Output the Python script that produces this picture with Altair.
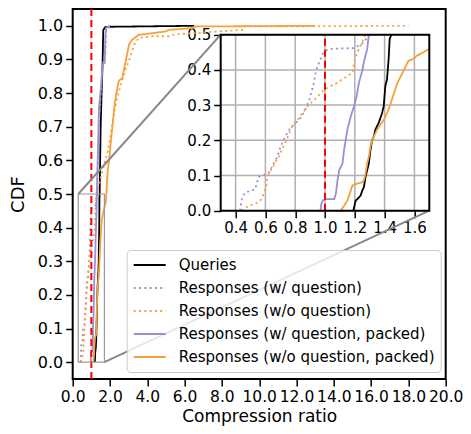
import altair as alt
import pandas as pd

# ---------------- data ----------------
SERIES = [
    "Queries",
    "Responses (w/ question)",
    "Responses (w/o question)",
    "Responses (w/ question, packed)",
    "Responses (w/o question, packed)",
]
COLORS = ["#000000", "#9b8fd3", "#f5a03c", "#9b8fd3", "#f5a03c"]
DASHES = [[1, 0], [2, 3.3], [2, 3.3], [1, 0], [1, 0]]

queries_x = [1.19, 1.206, 1.217, 1.239, 1.25, 1.261, 1.272, 1.283, 1.294, 1.305, 1.316, 1.327,
             1.338, 1.36, 1.383, 1.394, 1.405, 1.416, 1.427, 1.434, 1.445, 1.5, 1.55, 1.6,
             1.64, 1.76, 6.5]
queries_y = [0.0, 0.029, 0.033, 0.043, 0.057, 0.067, 0.096, 0.115, 0.134, 0.172, 0.2, 0.21,
             0.23, 0.249, 0.277, 0.297, 0.354, 0.373, 0.43, 0.488, 0.5, 0.7, 0.8, 0.885,
             0.988, 0.997, 1.0]

wq_x = [0.43, 0.44, 0.46, 0.50, 0.53, 0.555, 0.58, 0.62, 0.645, 0.68, 0.70, 0.725, 0.76,
        0.79, 0.83, 0.86, 0.895, 0.92, 0.94, 0.965, 0.985, 1.0, 1.05, 1.195, 1.25, 1.28,
        1.30, 1.4, 1.6, 1.65, 1.75, 1.8, 2.06]
wq_y = [0.0, 0.03, 0.05, 0.057, 0.06, 0.096, 0.10, 0.105, 0.125, 0.153, 0.18, 0.205, 0.23,
        0.244, 0.26, 0.28, 0.316, 0.354, 0.397, 0.426, 0.445, 0.455, 0.46, 0.462, 0.475, 0.49,
        0.5, 0.7, 0.88, 0.9, 0.91, 0.99, 1.0]

woq_x = [0.441, 0.486, 0.53, 0.566, 0.589, 0.605, 0.61, 0.623, 0.645, 0.668, 0.69, 0.714,
         0.736, 0.76, 0.78, 0.816, 0.85, 0.884, 0.918, 0.952, 0.986, 1.02, 1.084, 1.184,
         1.195, 1.217, 1.25, 1.27, 1.6, 1.9, 2.1, 2.31, 2.6, 2.84, 3.1, 3.3, 3.54, 4.25,
         5.15, 5.5, 6.4, 9.15, 9.2, 18.0]
woq_y = [0.0, 0.014, 0.019, 0.029, 0.048, 0.067, 0.086, 0.105, 0.12, 0.139, 0.153, 0.177,
         0.196, 0.22, 0.24, 0.258, 0.278, 0.297, 0.311, 0.325, 0.34, 0.35, 0.364, 0.392,
         0.421, 0.45, 0.479, 0.5, 0.57, 0.63, 0.70, 0.767, 0.83, 0.87, 0.91, 0.944, 0.964,
         0.969, 0.969, 0.975, 0.978, 0.988, 0.998, 1.0]

wqp_x = [0.97, 0.975, 0.985, 1.007, 1.062, 1.073, 1.084, 1.095, 1.117, 1.128, 1.15, 1.173,
         1.195, 1.212, 1.228, 1.25, 1.26, 1.283, 1.294, 1.35, 1.41, 1.5, 1.6, 1.62, 1.72,
         1.75, 1.8, 1.98]
wqp_y = [0.0, 0.019, 0.029, 0.033, 0.033, 0.048, 0.086, 0.115, 0.134, 0.172, 0.23, 0.268,
         0.297, 0.325, 0.364, 0.397, 0.421, 0.459, 0.5, 0.62, 0.757, 0.807, 0.875, 0.885,
         0.89, 0.97, 0.995, 1.0]

woqp_x = [1.106, 1.128, 1.15, 1.173, 1.184, 1.217, 1.25, 1.261, 1.272, 1.283, 1.294, 1.305,
          1.316, 1.327, 1.35, 1.372, 1.394, 1.416, 1.438, 1.46, 1.482, 1.504, 1.538, 1.56,
          1.593, 1.615, 1.66, 1.7, 1.78, 1.87, 1.96, 2.04, 2.13, 2.22, 2.31, 2.47, 2.66,
          2.84, 3.02, 3.19, 3.54, 4.25, 4.97, 5.15, 6.38, 6.56, 13.0]
woqp_y = [0.0, 0.014, 0.029, 0.057, 0.072, 0.077, 0.081, 0.086, 0.105, 0.134, 0.153, 0.182,
          0.2, 0.21, 0.23, 0.244, 0.258, 0.277, 0.301, 0.33, 0.359, 0.378, 0.407, 0.426,
          0.431, 0.44, 0.45, 0.46, 0.477, 0.565, 0.605, 0.654, 0.70, 0.752, 0.79, 0.836,
          0.845, 0.895, 0.944, 0.959, 0.973, 0.978, 0.983, 0.988, 0.993, 0.998, 1.0]

X_TICKS = [0, 2, 4, 6, 8, 10, 12, 14, 16, 18, 20]
Y_TICKS = [0.0, 0.1, 0.2, 0.3, 0.4, 0.5, 0.6, 0.7, 0.8, 0.9, 1.0]
X_DOMAIN = [0, 20]
Y_DOMAIN = [-0.05, 1.05]
INSET_X = [0.3, 1.7]
INSET_Y = [0.0, 0.5]
INSET_X_TICKS = [0.4, 0.6, 0.8, 1.0, 1.2, 1.4, 1.6]
INSET_Y_TICKS = [0.0, 0.1, 0.2, 0.3, 0.4, 0.5]
REF_X = [1.0]

# ---------------- layout (pixels) ----------------
W, H = 373, 370
IX0, IX1 = 148, 356.6      # inset left/right inside plot
IY0, IY1 = 25.7, 201.7     # inset top/bottom inside plot
FONT = "DejaVu Sans"

rows = []
for name, xs, ys in zip(SERIES, [queries_x, wq_x, woq_x, wqp_x, woqp_x],
                        [queries_y, wq_y, woq_y, wqp_y, woqp_y]):
    for i, (a, b) in enumerate(zip(xs, ys)):
        rows.append({"series": name, "x": a, "y": b, "i": i})
df = pd.DataFrame(rows)

legend = alt.Legend(
    title=None, orient="none", legendX=54, legendY=241,
    symbolType="stroke", symbolSize=1024, symbolStrokeWidth=2,
    labelFontSize=15, labelFont=FONT, labelColor="black", labelOffset=12,
    labelLimit=400, clipHeight=18,
    padding=6, rowPadding=5, fillColor="rgba(255,255,255,0.8)",
    strokeColor="#cccccc", cornerRadius=4,
)
color = alt.Color("series:N", scale=alt.Scale(domain=SERIES, range=COLORS), legend=legend)
dash = alt.StrokeDash("series:N", scale=alt.Scale(domain=SERIES, range=DASHES), legend=legend)

axis_common = dict(labelFont=FONT, titleFont=FONT, labelColor="black", titleColor="black",
                   tickColor="black", tickWidth=1.5, tickSize=7, domain=False, grid=False,
                   labelOverlap=False, labelFlush=False, titleFontWeight="normal")

main_xscale = alt.Scale(domain=X_DOMAIN, nice=False, zero=False)
main_yscale = alt.Scale(domain=Y_DOMAIN, nice=False, zero=False)
main_xaxis = alt.Axis(values=X_TICKS, format=".1f", title="Compression ratio",
                      labelFontSize=15.5, titleFontSize=17, labelPadding=3, titlePadding=4,
                      **axis_common)
main_yaxis = alt.Axis(values=Y_TICKS, format=".1f", title="CDF",
                      labelFontSize=16, titleFontSize=18, labelPadding=3, titlePadding=10,
                      **axis_common)


def mx(field):
    return alt.X(field, type="quantitative", scale=main_xscale, axis=main_xaxis)


def my(field):
    return alt.Y(field, type="quantitative", scale=main_yscale, axis=main_yaxis)


main_lines = alt.Chart(df).mark_line(strokeWidth=1.8).encode(
    x=mx("x"), y=my("y"), color=color, strokeDash=dash, order="i:Q")

main_ref = alt.Chart(pd.DataFrame({"x": REF_X})).mark_rule(
    color="red", strokeWidth=2, strokeDash=[7, 4]).encode(x=mx("x"))

box_df = pd.DataFrame({"x0": [INSET_X[0]], "x1": [INSET_X[1]],
                       "y0": [INSET_Y[0]], "y1": [INSET_Y[1]]})
zoom_rect = alt.Chart(box_df).mark_rect(fillOpacity=0, stroke="#999999", strokeWidth=1.2).encode(
    x=mx("x0"), x2="x1", y=my("y0"), y2="y1")

conn1 = alt.Chart(box_df).mark_rule(color="#888888", strokeWidth=2).encode(
    x=mx("x0"), y=my("y1"), x2=alt.value(IX0), y2=alt.value(IY0))
conn2 = alt.Chart(box_df).mark_rule(color="#888888", strokeWidth=2).encode(
    x=mx("x1"), y=my("y0"), x2=alt.value(IX1), y2=alt.value(IY1))

main = alt.layer(main_lines, main_ref, zoom_rect, conn1, conn2)

# ---------------- inset ----------------
in_xscale = alt.Scale(domain=INSET_X, range=[IX0, IX1], nice=False, zero=False)
in_yscale = alt.Scale(domain=INSET_Y, range=[IY1, IY0], nice=False, zero=False)
in_xaxis = alt.Axis(orient="bottom", offset=-(H - IY1), values=INSET_X_TICKS, format=".1f",
                    title=None, labelFontSize=15, labelPadding=3, **axis_common)
in_yaxis = alt.Axis(orient="left", offset=-IX0, values=INSET_Y_TICKS, format=".1f",
                    title=None, labelFontSize=15, labelPadding=3, **axis_common)


def ix(field):
    return alt.X(field, type="quantitative", scale=in_xscale, axis=in_xaxis)


def iy(field):
    return alt.Y(field, type="quantitative", scale=in_yscale, axis=in_yaxis)


in_bg = alt.Chart(box_df).mark_rect(fill="white").encode(
    x=ix("x0"), x2="x1", y=iy("y0"), y2="y1")

gx = pd.DataFrame({"x": INSET_X_TICKS, "y0": INSET_Y[0], "y1": INSET_Y[1]})
gy = pd.DataFrame({"y": INSET_Y_TICKS, "x0": INSET_X[0], "x1": INSET_X[1]})
in_gridx = alt.Chart(gx).mark_rule(color="#b0b0b0", strokeWidth=1.5).encode(
    x=ix("x"), y=iy("y0"), y2="y1")
in_gridy = alt.Chart(gy).mark_rule(color="#b0b0b0", strokeWidth=1.5).encode(
    y=iy("y"), x=ix("x0"), x2="x1")

in_lines = alt.Chart(df).transform_filter(
    f"datum.x <= {INSET_X[1]} && datum.y <= {INSET_Y[1]} && datum.x >= {INSET_X[0]}"
).mark_line(strokeWidth=1.8).encode(
    x=ix("x"), y=iy("y"), color=color, strokeDash=dash, order="i:Q")

in_ref = alt.Chart(pd.DataFrame({"x": REF_X, "y0": INSET_Y[0], "y1": INSET_Y[1]})).mark_rule(
    color="red", strokeWidth=2, strokeDash=[7, 4]).encode(x=ix("x"), y=iy("y0"), y2="y1")

in_frame = alt.Chart(box_df).mark_rect(fillOpacity=0, stroke="black", strokeWidth=2).encode(
    x=ix("x0"), x2="x1", y=iy("y0"), y2="y1")

inset = alt.layer(in_bg, in_gridx, in_gridy, in_lines, in_ref, in_frame)

chart = alt.layer(main, inset).resolve_scale(x="independent", y="independent").properties(
    width=W, height=H,
    autosize=alt.AutoSizeParams(type="none"),
    padding={"left": 64.7, "top": 1, "right": 17.3, "bottom": 47},
).configure_view(stroke="black", strokeWidth=2)

chart.save("out.html", embed_options={"renderer": "svg", "actions": False})
